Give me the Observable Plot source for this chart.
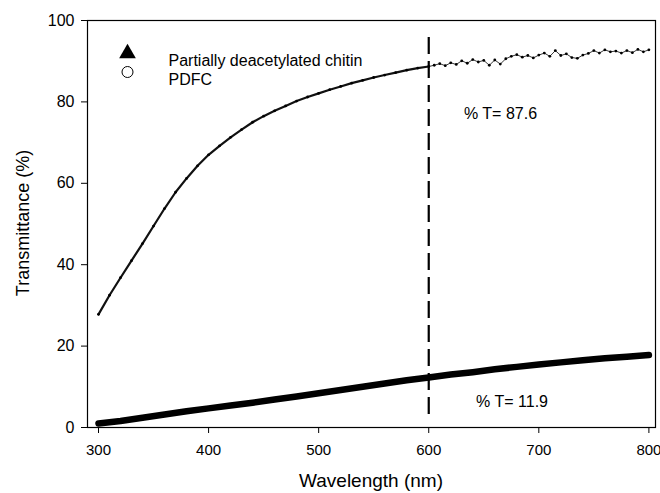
<!DOCTYPE html>
<html><head><meta charset="utf-8">
<script src="https://cdn.jsdelivr.net/npm/d3@7"></script>
<script src="https://cdn.jsdelivr.net/npm/@observablehq/plot@0.6"></script>
<style>body{margin:0;background:#fff;} #chart{width:660px;height:493px;overflow:hidden;}</style>
</head><body><div id="chart"></div>
<script>
const seriesNames = ["Partially deacetylated chitin", "PDFC"];
const xTicks = [300, 400, 500, 600, 700, 800];
const yTicks = [0, 20, 40, 60, 80, 100];
const xTitle = "Wavelength (nm)";
const yTitle = "Transmittance (%)";

// Partially deacetylated chitin (thick lower curve)
const chitinWavelength = [300,320,340,360,380,400,420,440,460,480,500,520,540,560,580,600,620,640,660,680,700,720,740,760,780,800];
const chitinT = [1.0,1.6,2.4,3.2,4.0,4.7,5.4,6.1,6.9,7.6,8.4,9.2,10.0,10.8,11.6,12.3,13.0,13.6,14.3,14.9,15.5,16.0,16.5,17.0,17.4,17.8];

// PDFC (dotted upper curve)
const pdfcWavelength = [300,310,320,330,340,350,360,370,380,390,400,410,420,430,440,450,460,470,480,490,500,510,520,530,540,550,560,570,580,590,
  600,605,610,615,620,625,630,635,640,645,650,655,660,665,670,675,680,685,690,695,700,705,710,715,720,725,730,735,740,745,750,755,760,765,770,775,780,785,790,795,800];
const pdfcT = [27.8,32.5,36.8,41.0,45.2,49.5,53.8,57.8,61.2,64.3,67.0,69.2,71.3,73.2,75.0,76.5,77.8,79.0,80.2,81.2,82.1,83.0,83.8,84.6,85.3,86.0,86.6,87.2,87.8,88.3,
  88.7,89.0,89.4,88.9,89.6,89.2,90.1,89.5,90.4,89.8,90.2,89.0,90.3,89.3,90.6,91.2,91.6,91.0,91.4,90.8,91.5,92.0,91.2,92.6,91.4,91.8,90.9,90.7,91.5,91.9,92.6,92.0,92.8,92.3,92.5,92.0,92.6,92.1,92.9,92.3,92.8];

// Reference line and annotations
const refWavelength = [600];
const refSpan = [3.2, 96];
const annotationText = ["% T= 87.6", "% T= 11.9"];
const annotationWavelength = [632, 643];
const annotationT = [77.1, 6.2];

const chitin = chitinWavelength.map((w, i) => ({w, t: chitinT[i]}));
const pdfc = pdfcWavelength.map((w, i) => ({w, t: pdfcT[i]}));
const pdfcSmooth = pdfc.filter(d => d.w <= 600);
const pdfcNoisy = pdfc.filter(d => d.w >= 600);
const annotations = annotationText.map((text, i) => ({text, w: annotationWavelength[i], t: annotationT[i]}));

const font = "'Liberation Sans', Arial, sans-serif";

const plot = Plot.plot({
  width: 660, height: 493,
  marginLeft: 87, marginRight: 5, marginTop: 20, marginBottom: 66,
  style: {fontFamily: font, fontSize: "16px", color: "#000", background: "#fff"},
  x: {domain: [290, 806], label: null},
  y: {domain: [0, 100], label: null},
  marks: [
    Plot.axisX({ticks: xTicks, tickSize: 6, tickPadding: 11, label: null, fontSize: 15, tickFormat: d => String(d)}),
    Plot.axisY({ticks: yTicks, tickSize: 6, tickPadding: 7, label: null, tickFormat: d => String(d)}),
    Plot.frame({stroke: "#000", strokeWidth: 1.2}),
    Plot.ruleX(refWavelength, {y1: refSpan[0], y2: refSpan[1], stroke: "#000", strokeWidth: 2.2, strokeDasharray: "17,7"}),
    Plot.line(chitin, {x: "w", y: "t", stroke: "#000", strokeWidth: 6.5}),
    Plot.line(pdfcSmooth, {x: "w", y: "t", stroke: "#111", strokeWidth: 2.2}),
    Plot.line(pdfcNoisy, {x: "w", y: "t", stroke: "#222", strokeWidth: 0.9}),
    Plot.dot(pdfc, {x: "w", y: "t", r: 1.4, fill: "#000"}),
    Plot.text(annotations, {x: "w", y: "t", text: "text", textAnchor: "start", fontSize: 16, fill: "#000"}),
    // legend
    Plot.dot([seriesNames[0]], {frameAnchor: "top-left", dx: 40, dy: 33, symbol: "triangle", r: 6.2, fill: "#000"}),
    Plot.dot([seriesNames[1]], {frameAnchor: "top-left", dx: 40, dy: 51.5, symbol: "circle", r: 5.5, fill: "#fff", stroke: "#000", strokeWidth: 1}),
    Plot.text([seriesNames[0]], {frameAnchor: "top-left", dx: 81, dy: 34, text: d => d, textAnchor: "start", fontSize: 16, fill: "#000"}),
    Plot.text([seriesNames[1]], {frameAnchor: "top-left", dx: 81, dy: 53.5, text: d => d, textAnchor: "start", fontSize: 16, fill: "#000"})
  ]
});

const svg = d3.select(plot);
svg.append("text")
  .attr("x", 371).attr("y", 487)
  .attr("text-anchor", "middle")
  .attr("font-family", font).attr("font-size", 19).attr("fill", "#000")
  .text(xTitle);
svg.append("text")
  .attr("transform", "translate(29,223) rotate(-90)")
  .attr("text-anchor", "middle")
  .attr("font-family", font).attr("font-size", 18).attr("fill", "#000")
  .text(yTitle);

document.getElementById("chart").appendChild(plot);
</script>
</body></html>
